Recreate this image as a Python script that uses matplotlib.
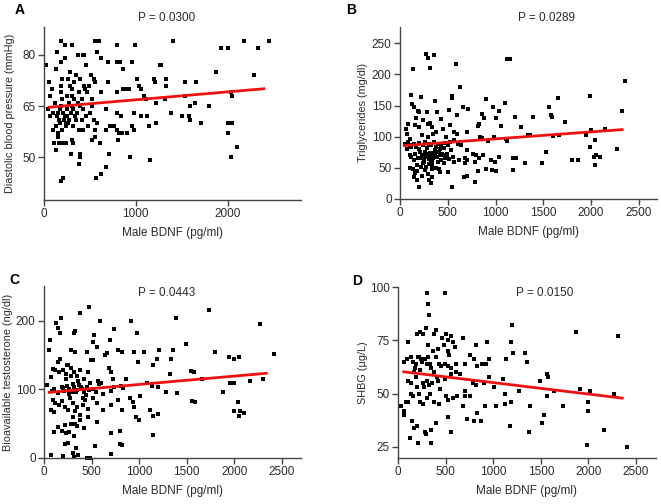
import matplotlib
matplotlib.use("Agg")
import matplotlib.pyplot as plt
import numpy as np

plt.rcParams['font.family'] = ['Liberation Sans', 'DejaVu Sans']

# ---------------- data ----------------
# Panel A: Diastolic blood pressure (mmHg)
a_x = [190, 230, 300, 560, 600, 800, 990, 1400, 2180, 2450, 1930, 2000, 2330,
       140, 370, 420, 440, 580, 230, 620, 700, 790, 830, 960, 180, 20, 460, 1270, 1260, 130, 860, 280, 1870, 2290,
       50, 200, 260, 350, 510, 540, 390, 440, 490, 560, 700, 930, 1010, 1040, 1060, 1200, 1210, 1330, 1540, 1660, 860, 790, 900, 1330,
       60, 90, 180, 250, 300, 330, 380, 410, 470, 520, 620, 1090, 1110, 1220, 1320, 1540, 1650, 1590, 1800, 2040, 2050,
       40, 70, 100, 120, 140, 160, 170, 190, 210, 230, 250, 270, 290, 310, 340, 360, 390, 410, 430, 460, 500, 520, 540, 580, 680, 840, 800, 980, 1060, 1120, 1220, 1380, 1500, 1580, 1590,
       100, 130, 150, 170, 200, 240, 260, 320, 380, 420, 480, 560, 680, 720, 760, 800, 820, 850, 900, 960, 980, 1140, 1710, 2000, 2050,
       110, 150, 160, 200, 240, 300, 320, 520, 560, 610, 810, 2000, 2100,
       130, 290, 390, 390, 710, 940, 2040,
       380, 680, 1160, 210, 180, 570, 620,
       150, 220, 270, 320, 200, 250, 280, 330, 370, 450, 180, 240, 300, 350]
a_y = [84, 83, 83, 84, 84, 83, 83, 84, 84, 84, 82, 82, 82,
       81, 80, 80, 80, 81, 79, 79, 78, 78, 78, 78, 78, 77, 77, 77, 77, 76, 76, 75, 75, 74,
       72, 73, 73, 74, 74, 73, 73, 71, 71, 72, 72, 70, 73, 71, 70, 73, 72, 73, 72, 72, 70, 69, 70, 71,
       68, 70, 69, 68, 70, 67, 69, 67, 69, 67, 69, 68, 67, 66, 67, 68, 66, 65, 65, 69, 68,
       64, 62, 63, 66, 62, 61, 64, 65, 63, 62, 64, 61, 63, 65, 62, 63, 65, 61, 64, 62, 63, 65, 61, 60, 64, 62, 63, 63, 62, 62, 60, 63, 62, 62, 61,
       58, 59, 57, 60, 58, 59, 60, 59, 58, 58, 59, 58, 58, 59, 59, 58, 57, 57, 57, 59, 58, 59, 60, 60, 60,
       54, 56, 54, 54, 54, 55, 54, 55, 56, 54, 55, 57, 53,
       52, 51, 51, 50, 51, 50, 50,
       48, 47, 49, 44, 43, 44, 45,
       63, 61, 66, 64, 67, 62, 71, 72, 66, 70, 71, 60, 68, 61]

# Panel B: Triglycerides (mg/dl)
b_x = [270, 290, 360, 140, 310, 590, 1120, 1150, 630, 2360,
       120, 220, 540, 540, 900, 1650, 1990, 130, 150, 370, 510, 660, 710, 1100, 1560, 2320, 970, 860, 1040,
       190, 200, 280, 390, 600, 170, 240, 290, 310, 330, 430, 160, 80, 200, 380, 450, 520, 700, 820, 830, 880, 1000, 1060, 1200, 1270, 1390, 1580, 1590, 1730,
       60, 70, 100, 230, 290, 350, 480, 560, 600, 840, 860, 920, 980, 1110, 1120, 1340, 1360, 1600, 1660, 1950, 2000, 2150, 1950,
       50, 80, 100, 120, 150, 170, 200, 240, 260, 300, 320, 360, 400, 430, 470, 500, 520, 560, 610, 640, 70, 200, 280, 380, 420, 460, 1990, 2270, 2040,
       100, 120, 160, 190, 210, 230, 250, 270, 290, 310, 330, 350, 370, 390, 410, 430, 450, 470, 490, 510, 530, 550, 620, 680, 700, 760, 800, 830, 870, 950, 990, 1040, 1180, 1210, 1310, 1490, 1530, 1800, 1860, 2030, 2050, 2090, 2040, 150, 240, 330, 400, 300, 460,
       100, 140, 160, 180, 220, 260, 290, 340, 380, 420, 500, 560, 680, 700, 780, 820, 900, 960, 1000, 1180, 150, 180, 230, 300, 330, 670, 700, 790, 200, 320, 540,
       210, 260, 320, 370, 420, 480, 250, 300, 350, 440, 180, 270, 340, 410, 490]
b_y = [232, 227, 231, 208, 211, 217, 225, 224, 179, 189,
       167, 164, 165, 162, 161, 162, 166, 152, 148, 158, 143, 148, 145, 154, 148, 142, 147, 136, 142,
       142, 140, 140, 140, 135, 130, 127, 120, 122, 115, 128, 118, 120, 115, 108, 112, 118, 108, 117, 120, 130, 130, 117, 132, 116, 132, 135, 131, 124,
       113, 104, 97, 103, 100, 105, 100, 108, 105, 100, 98, 93, 100, 97, 93, 102, 102, 101, 103, 105, 110, 112, 102,
       88, 92, 86, 84, 88, 83, 90, 86, 91, 88, 86, 92, 88, 85, 90, 86, 92, 95, 88, 86, 80, 80, 82, 83, 80, 82, 83, 80, 94,
       70, 68, 72, 65, 75, 70, 66, 72, 68, 74, 70, 65, 72, 68, 75, 62, 70, 66, 73, 64, 78, 68, 62, 65, 78, 72, 70, 66, 70, 62, 60, 68, 65, 66, 58, 57, 76, 62, 62, 68, 71, 67, 54, 62, 58, 60, 60, 56, 58,
       50, 48, 42, 45, 52, 47, 40, 48, 50, 44, 43, 60, 58, 62, 60, 45, 48, 46, 45, 46, 35, 30, 37, 30, 35, 36, 37, 27, 20, 25, 20,
       66, 76, 63, 78, 70, 66, 60, 64, 74, 72, 55, 52, 55, 48, 68]

# Panel C: Bioavailable testosterone (ng/dl)
c_x = [470, 380, 1730, 180, 130, 590, 910, 1390, 2270, 740, 330, 150, 170, 310, 530, 980, 60, 50, 510, 690, 1490,
       170, 280, 330, 450, 560, 640, 660, 780, 820, 950, 1050, 1210, 1360, 1800, 1940, 2000, 2050, 2420, 520, 490, 240, 1150, 1190, 1330, 150,
       90, 120, 160, 200, 230, 250, 280, 310, 350, 380, 420, 460, 480, 570, 600, 680, 700, 730, 860, 990, 1130, 1320, 1540, 1580, 1660, 2300, 2160, 70,
       30, 80, 110, 150, 190, 210, 240, 260, 290, 320, 350, 370, 400, 420, 450, 470, 520, 550, 580, 620, 700, 740, 810, 830, 900, 930, 1010, 1080, 1200, 1280, 1400, 1560, 1590, 1880, 1950, 2000,
       90, 120, 160, 190, 220, 250, 270, 300, 330, 350, 380, 410, 430, 460, 520, 560, 620, 700, 780, 820, 950, 970, 1110, 1150, 1200, 2000, 2040, 2060, 2100, 2050, 70, 100, 300,
       110, 150, 190, 220, 260, 280, 310, 350, 380, 420, 460, 560, 700, 800, 1000, 1140, 230, 330,
       70, 200, 220, 250, 310, 340, 360, 450, 480, 540, 700, 800, 820, 300,
       200, 260, 300, 340, 390, 440, 230, 280, 360, 410]
c_y = [220, 212, 216, 205, 197, 200, 200, 205, 195, 188, 186, 190, 182, 182, 180, 182, 172, 158, 170, 172, 167,
       145, 158, 155, 155, 162, 150, 153, 157, 155, 155, 155, 157, 157, 155, 148, 145, 148, 152, 143, 143, 135, 135, 145, 144, 140,
       130, 128, 125, 128, 122, 135, 132, 126, 120, 128, 115, 125, 110, 113, 110, 132, 125, 115, 115, 140, 105, 123, 127, 125, 115, 116, 112, 118,
       106, 98, 100, 95, 103, 98, 105, 100, 96, 103, 99, 107, 101, 96, 104, 99, 100, 96, 108, 93, 98, 104, 105, 102, 88, 82, 90, 110, 103, 96, 95, 83, 81, 97, 110, 110,
       85, 80, 78, 83, 75, 70, 88, 80, 68, 74, 63, 78, 85, 72, 88, 80, 70, 78, 85, 70, 75, 60, 70, 62, 64, 68, 82, 68, 65, 62, 70, 67, 60,
       38, 45, 40, 48, 38, 50, 32, 46, 55, 44, 60, 53, 37, 40, 55, 33, 36, 50,
       5, 3, 20, 22, 2, 15, 5, 0, 0, 18, 6, 20, 19, 8,
       102, 93, 108, 97, 104, 92, 115, 120, 112, 88]

# Panel D: SHBG (ug/L)
d_x = [300, 490, 320, 330, 1200, 2310, 1870,
       100, 200, 230, 260, 290, 320, 380, 400, 420, 460, 500, 480, 520, 560, 580, 600, 680, 820, 940, 1190,
       60, 90, 140, 160, 190, 220, 250, 280, 310, 340, 370, 400, 430, 450, 490, 520, 540, 560, 610, 650, 700, 760, 800, 830, 880, 920, 960, 1130, 1210, 1330, 1350,
       110, 140, 170, 190, 230, 260, 300, 330, 360, 380, 420, 490, 520, 560, 610, 700, 790, 820, 900, 960, 1010, 1100, 1580, 1560, 1490,
       30, 60, 80, 110, 140, 160, 200, 220, 230, 260, 300, 340, 380, 430, 500, 520, 580, 620, 680, 700, 760, 910, 1030, 1120, 1190, 1120, 1270, 1570, 1640, 1910, 2020, 2270, 1390, 1730, 2000, 2000,
       60, 150, 170, 200, 280, 290, 350, 400, 520, 560, 730, 800, 870, 830, 1180, 1380, 1530, 1510, 2160,
       130, 210, 350, 1990, 2410,
       180, 240, 270, 350, 410, 210, 300, 440]
d_y = [97, 97, 92, 87, 82, 77, 79,
       74, 78, 79, 78, 81, 73, 78, 80, 71, 76, 78, 73, 75, 77, 74, 72, 76, 73, 74, 74,
       65, 66, 67, 65, 64, 67, 65, 66, 67, 64, 70, 67, 64, 63, 64, 70, 68, 62, 64, 59, 64, 68, 66, 63, 64, 64, 66, 66, 69, 69, 65,
       56, 55, 60, 58, 61, 55, 56, 54, 55, 60, 56, 57, 63, 59, 60, 51, 55, 54, 55, 58, 53, 57, 58, 59, 56,
       44, 42, 46, 46, 50, 49, 53, 50, 46, 45, 48, 50, 46, 45, 49, 47, 48, 49, 44, 49, 49, 44, 44, 45, 46, 50, 51, 49, 51, 52, 51, 50, 44, 44, 46, 42,
       40, 37, 34, 35, 32, 31, 33, 36, 39, 32, 38, 37, 37, 41, 35, 32, 40, 36, 33,
       29, 27, 27, 26, 25,
       62, 66, 53, 62, 58, 67, 64, 52]

# regression lines (endpoints)
fit_a_x, fit_a_y = [40, 2410], [64.6, 70.1]
fit_b_x, fit_b_y = [30, 2340], [85.6, 111.5]
fit_c_x, fit_c_y = [40, 2350], [95.6, 123.8]
fit_d_x, fit_d_y = [46, 2370], [60.3, 47.8]

p_texts = ["P = 0.0300", "P = 0.0289", "P = 0.0443", "P = 0.0150"]
letters = ["A", "B", "C", "D"]
ylabels = ["Diastolic blood pressure (mmHg)", "Triglycerides (mg/dl)",
           "Bioavailable testosterone (ng/dl)", "SHBG (\u00b5g/L)"]
xlabel = "Male BDNF (pg/ml)"
a_yticks = [50, 65, 80]
b_yticks = [0, 50, 100, 150, 200, 250]
c_yticks = [0, 100, 200]
d_yticks = [25, 50, 75, 100]
a_xticks = [0, 1000, 2000]
bcd_xticks = [0, 500, 1000, 1500, 2000, 2500]

# ---------------- figure ----------------
W, H = 661, 504
fig = plt.figure(figsize=(W / 100, H / 100), dpi=100)

def px_axes(l, t, r, b):
    return fig.add_axes([l / W, 1 - b / H, (r - l) / W, (b - t) / H])

TXT = '#2a2a2a'
SP = '#444444'

def style(ax, xlim, ylim, xticks, yticks, ylabel, yl_x):
    ax.set_xlim(*xlim)
    ax.set_ylim(*ylim)
    ax.set_xticks(xticks)
    ax.set_yticks(yticks)
    for s in ['top', 'right']:
        ax.spines[s].set_visible(False)
    for s in ['left', 'bottom']:
        ax.spines[s].set_color(SP)
        ax.spines[s].set_linewidth(1.0)
    ax.tick_params(direction='out', length=4, width=1, colors=SP,
                   labelcolor=TXT, labelsize=8.5, pad=2)
    ax.set_xlabel(xlabel, fontsize=8.5, color=TXT, labelpad=5)
    ax.set_ylabel(ylabel, fontsize=7.8, color=TXT)
    ax.yaxis.set_label_coords(yl_x, 0.5)

panels = [
    (a_x, a_y, fit_a_x, fit_a_y, (44, 27, 301, 200), (0, 2800), (37.4, 88.2), a_xticks, a_yticks, -0.113),
    (b_x, b_y, fit_b_x, fit_b_y, (400, 27, 657, 199), (0, 2690), (0, 276), bcd_xticks, b_yticks, -0.125),
    (c_x, c_y, fit_c_x, fit_c_y, (44, 286, 301, 458), (0, 2700), (0, 251), bcd_xticks, c_yticks, -0.12),
    (d_x, d_y, fit_d_x, fit_d_y, (398, 287, 656, 458), (0, 2710), (19.8, 100), bcd_xticks, d_yticks, -0.116),
]
letter_pos = [(20, 10), (351, 10), (14, 280), (357, 281)]
p_pos = [(167, 18), (546, 18), (167, 293), (545, 293)]

for i, (xs, ys, fx, fy, box, xl, yl, xt, yt, ylx) in enumerate(panels):
    ax = px_axes(*box)
    style(ax, xl, yl, xt, yt, ylabels[i], ylx)
    ax.plot(xs, ys, linestyle='none', marker='s', markersize=3.4,
            color='black', markeredgewidth=0, clip_on=False)
    ax.plot(fx, fy, color='#ee1111', linewidth=2.0, solid_capstyle='butt', zorder=3)
    lx, ly = letter_pos[i]
    fig.text(lx / W, 1 - ly / H, letters[i], fontsize=10, fontweight='bold',
             ha='center', va='center', color='black')
    px, py = p_pos[i]
    fig.text(px / W, 1 - py / H, p_texts[i], fontsize=8.5, ha='center',
             va='center', color=TXT)

fig.savefig("out.png", dpi=100)
